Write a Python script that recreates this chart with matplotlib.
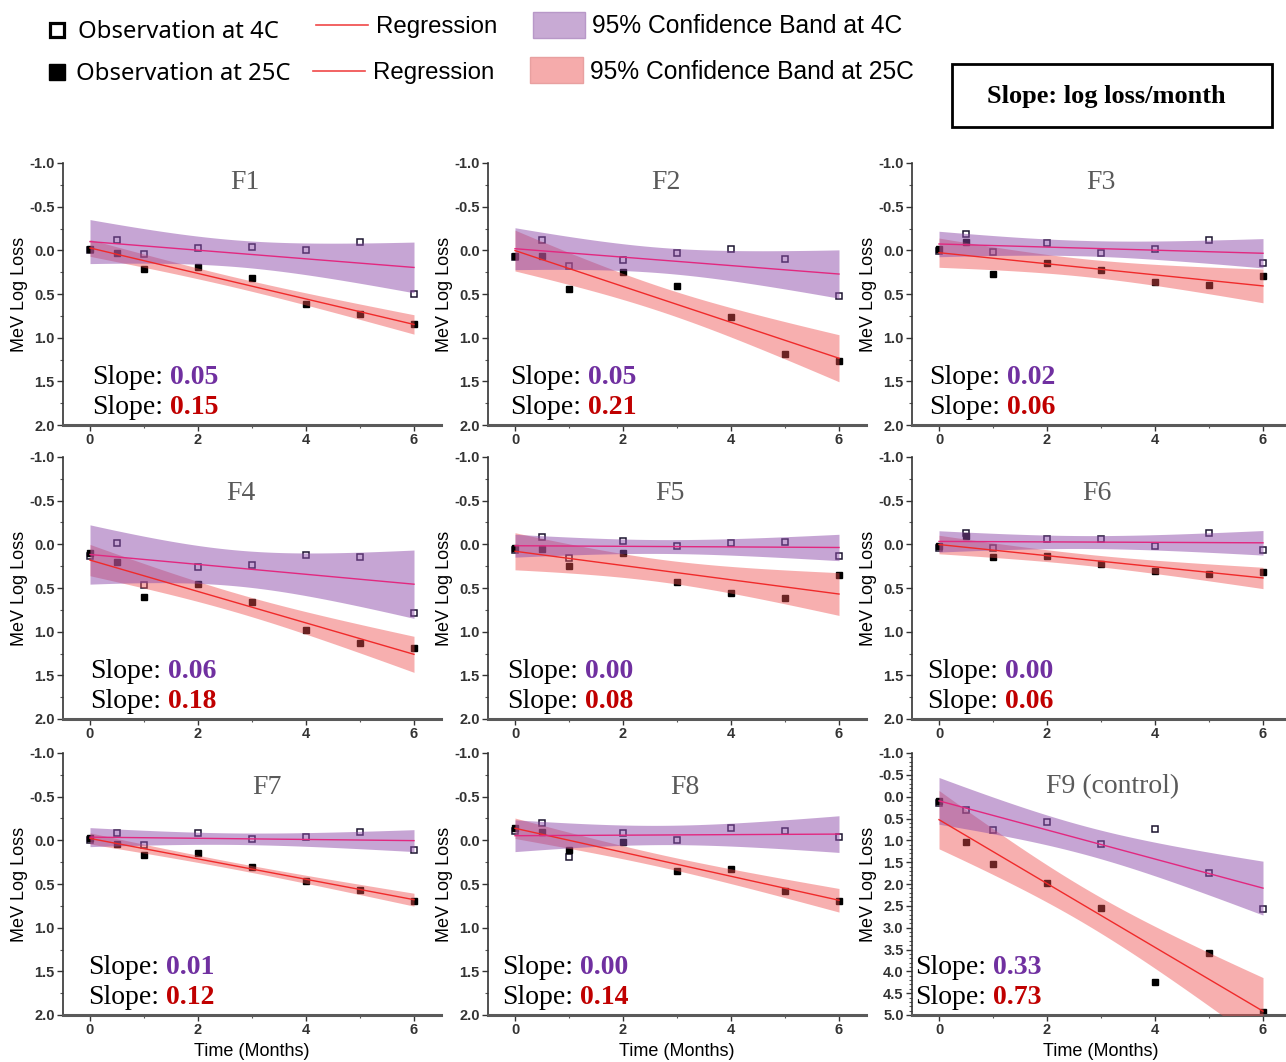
import numpy as np
import matplotlib.pyplot as plt
from matplotlib.ticker import MultipleLocator, FormatStrFormatter
from matplotlib.patches import Rectangle

plt.rcParams['axes.unicode_minus'] = False

# sampling times (months)
months = [0, 0.5, 1, 2, 3, 4, 5, 6]

# MeV log loss, 4C and 25C
f1_4c = [0.00, -0.12, 0.04, -0.03, -0.04, 0.00, -0.09, 0.50]
f1_25c = [-0.02, 0.03, 0.21, 0.19, 0.32, 0.62, 0.73, 0.84]
f2_4c = [0.08, -0.12, 0.18, 0.11, 0.03, -0.01, 0.10, 0.52]
f2_25c = [0.06, 0.06, 0.44, 0.25, 0.41, 0.76, 1.19, 1.27]
f3_4c = [0.01, -0.19, 0.02, -0.08, 0.03, -0.01, -0.12, 0.14]
f3_25c = [-0.01, -0.10, 0.27, 0.14, 0.23, 0.36, 0.40, 0.29]
f4_4c = [0.13, -0.01, 0.47, 0.26, 0.24, 0.12, 0.15, 0.79]
f4_25c = [0.10, 0.20, 0.60, 0.45, 0.66, 0.98, 1.13, 1.19]
f5_4c = [0.06, -0.08, 0.16, -0.04, 0.02, -0.02, -0.03, 0.13]
f5_25c = [0.04, 0.05, 0.25, 0.10, 0.43, 0.56, 0.61, 0.35]
f6_4c = [0.04, -0.13, 0.04, -0.06, -0.06, 0.02, -0.13, 0.07]
f6_25c = [0.02, -0.10, 0.15, 0.13, 0.23, 0.30, 0.34, 0.32]
f7_4c = [0.00, -0.08, 0.05, -0.08, -0.01, -0.04, -0.10, 0.11]
f7_25c = [-0.03, 0.04, 0.17, 0.14, 0.30, 0.46, 0.57, 0.69]
f8_4c = [-0.11, -0.20, 0.19, -0.08, 0.00, -0.14, -0.11, -0.04]
f8_25c = [-0.14, -0.10, 0.11, 0.02, 0.35, 0.33, 0.58, 0.70]
f9_4c = [0.14, 0.30, 0.76, 0.59, 1.08, 0.74, 1.75, 2.57]
f9_25c = [0.10, 1.03, 1.54, 1.98, 2.54, 4.24, 3.57, 4.93]

panel_names = ["F1", "F2", "F3", "F4", "F5", "F6", "F7", "F8", "F9 (control)"]
slope_4c_labels = ["0.05", "0.05", "0.02", "0.06", "0.00", "0.00", "0.01", "0.00", "0.33"]
slope_25c_labels = ["0.15", "0.21", "0.06", "0.18", "0.08", "0.06", "0.12", "0.14", "0.73"]

series_4c = [f1_4c, f2_4c, f3_4c, f4_4c, f5_4c, f6_4c, f7_4c, f8_4c, f9_4c]
series_25c = [f1_25c, f2_25c, f3_25c, f4_25c, f5_25c, f6_25c, f7_25c, f8_25c, f9_25c]

T_CRIT = 2.447  # t(0.975, df=6)

PURPLE_TXT = '#7030A0'
RED_TXT = '#C00000'
SERIF = 'Liberation Serif'
SANS = 'Liberation Sans'


def fit_band(x, y, xs):
    x = np.asarray(x, float)
    y = np.asarray(y, float)
    n = len(x)
    slope, icpt = np.polyfit(x, y, 1)
    resid = y - (icpt + slope * x)
    s = np.sqrt(np.sum(resid ** 2) / (n - 2))
    sxx = np.sum((x - x.mean()) ** 2)
    yhat = icpt + slope * xs
    half = T_CRIT * s * np.sqrt(1.0 / n + (xs - x.mean()) ** 2 / sxx)
    return yhat, yhat - half, yhat + half


W, H = 1286, 1062
fig = plt.figure(figsize=(W / 100, H / 100), dpi=100)

# overlay in pixel coordinates for the legend block
lax = fig.add_axes([0, 0, 1, 1])
lax.set_xlim(0, W)
lax.set_ylim(H, 0)
lax.axis('off')

lax.plot([57], [30], 's', ms=10, mfc='white', mec='black', mew=2.3)
lax.text(78, 32, "Observation at 4C", family='Noto Sans', size=17.2, va='center')
lax.plot([57], [72], 's', ms=11, color='black')
lax.text(76, 74, "Observation at 25C", family='Noto Sans', size=17.2, va='center')
lax.plot([316, 368], [25, 25], color='#F04848', lw=1.2)
lax.text(376, 27, "Regression", family=SANS, size=17.3, va='center')
lax.plot([313, 365], [71, 71], color='#F04848', lw=1.2)
lax.text(373, 73, "Regression", family=SANS, size=17.3, va='center')
lax.add_patch(Rectangle((533, 12), 52, 26, facecolor='#C8AAD4', edgecolor='#B898C8', lw=1))
lax.text(592, 26, "95% Confidence Band at 4C", family=SANS, size=17.7, va='center')
lax.add_patch(Rectangle((530, 57), 53, 26, facecolor='#F5ABAB', edgecolor='#E8A0A0', lw=1))
lax.text(590, 72, "95% Confidence Band at 25C", family=SANS, size=17.7, va='center')
lax.add_patch(Rectangle((952, 64), 320, 63, fill=False, edgecolor='black', lw=2))
lax.text(1106, 97, "Slope: log loss/month", family=SERIF, weight='bold', size=19,
         ha='center', va='center')

col_left = [63, 488, 912]
row_top = [163, 457, 753]
ax_w, ax_h = 378, 262

title_x = [0.48, 0.47, 0.50, 0.47, 0.48, 0.49, 0.54, 0.52, 0.53]
title_y = [0.927, 0.927, 0.927, 0.862, 0.862, 0.862, 0.87, 0.87, 0.87]
slope_x = [0.077, 0.058, 0.045, 0.072, 0.05, 0.04, 0.066, 0.038, 0.008]

xs = np.linspace(0, 6, 200)

for i in range(9):
    r, c = divmod(i, 3)
    left = col_left[c] / W
    bottom = 1 - (row_top[r] + ax_h) / H
    ax = fig.add_axes([left, bottom, ax_w / W, ax_h / H])
    ax.patch.set_alpha(0)

    y4 = series_4c[i]
    y25 = series_25c[i]

    ax.plot(months, y4, 's', ms=5, mfc='white', mec='#1c1530', mew=1.1, zorder=2)
    ax.plot(months, y25, 's', ms=5, color='black', zorder=2)

    fit25, lo25, hi25 = fit_band(months, y25, xs)
    fit4, lo4, hi4 = fit_band(months, y4, xs)
    ax.fill_between(xs, lo25, hi25, color='#EE4F4F', alpha=0.45, lw=0, zorder=3)
    ax.fill_between(xs, lo4, hi4, color='#8E4DAA', alpha=0.5, lw=0, zorder=3)
    ax.plot(xs, fit25, color='#F02A2A', lw=1.0, zorder=4)
    ax.plot(xs, fit4, color='#E2287F', lw=1.0, zorder=4)

    ax.set_xlim(-0.5, 6.5)
    if i == 8:
        ax.set_ylim(5.0, -1.0)
        ax.yaxis.set_minor_locator(MultipleLocator(0.1))
    else:
        ax.set_ylim(2.0, -1.0)
        ax.yaxis.set_minor_locator(MultipleLocator(0.25))
    ax.yaxis.set_major_locator(MultipleLocator(0.5))
    ax.yaxis.set_major_formatter(FormatStrFormatter('%.1f'))
    ax.xaxis.set_major_locator(MultipleLocator(2))
    ax.xaxis.set_minor_locator(MultipleLocator(1))

    ax.spines['top'].set_visible(False)
    ax.spines['right'].set_visible(False)
    ax.spines['left'].set_color('#333333')
    ax.spines['left'].set_linewidth(1.2)
    ax.spines['bottom'].set_color('#5a5a5a')
    ax.spines['bottom'].set_linewidth(2.2)

    ax.tick_params(which='major', direction='out', length=4, width=1, labelsize=10.5,
                   colors='#333333', pad=2)
    ax.tick_params(which='minor', direction='out', length=2, width=0.8, colors='#555555')
    for lab in ax.get_xticklabels() + ax.get_yticklabels():
        lab.set_fontweight('bold')
        lab.set_family(SANS)

    ax.set_ylabel("MeV Log Loss", family=SANS, size=13)
    ax.yaxis.set_label_coords(-0.093, 0.5)
    if r == 2:
        ax.set_xlabel("Time (Months)", family=SANS, size=13)
        ax.xaxis.set_label_coords(0.5, -0.105)

    ax.text(title_x[i], title_y[i], panel_names[i], transform=ax.transAxes, ha='center',
            va='center', family=SERIF, size=20, color='#5a5a5a')

    for yy, val, col in [(0.18, slope_4c_labels[i], PURPLE_TXT),
                         (0.068, slope_25c_labels[i], RED_TXT)]:
        t1 = ax.text(slope_x[i], yy, "Slope:", transform=ax.transAxes, ha='left',
                     va='center', family=SERIF, size=20, color='black', zorder=6)
        ax.annotate(val, xy=(1, 0.5), xycoords=t1, xytext=(5, 0), textcoords='offset points',
                    ha='left', va='center', family=SERIF, size=20, weight='bold',
                    color=col, zorder=6)

fig.savefig("out.png", dpi=100)
